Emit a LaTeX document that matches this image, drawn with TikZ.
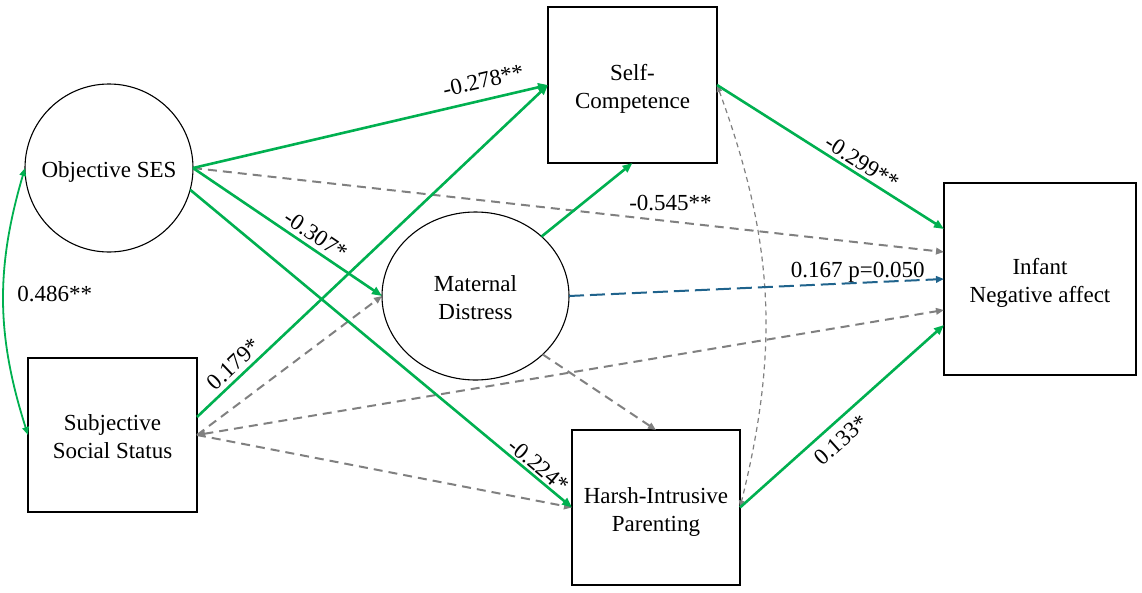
\documentclass[tikz,border=0pt]{standalone}
\usepackage{fontspec}
\setmainfont{Liberation Serif}
\usetikzlibrary{arrows.meta,calc,shapes.geometric}

\definecolor{pathgreen}{RGB}{0,176,80}
\definecolor{pathgray}{RGB}{128,128,128}
\definecolor{pathblue}{RGB}{31,99,140}

% centred variable name, set a little below the geometric centre
\newcommand\varname[1]{\raisebox{-4pt}[\height][\depth]{\begin{tabular}{@{}c@{}}#1\end{tabular}}}

\tikzset{
  every node/.style={font=\fontsize{23}{28}\selectfont},
  varbox/.style={draw, line width=1.3pt, rectangle, inner sep=0pt, outer sep=0pt},
  latentvar/.style={draw, line width=1.1pt, circle, inner sep=0pt, outer sep=0pt, minimum size=168pt},
  mediator/.style={draw, line width=1.1pt, ellipse, inner sep=0pt, outer sep=0pt,
                   minimum width=187pt, minimum height=168pt},
  sig/.style={draw=pathgreen, line width=2.6pt, -{Triangle[length=10pt,width=8pt]}},
  nonsig/.style={draw=pathgray, line width=2pt, dash pattern=on 9pt off 6pt,
                 -{Triangle[length=8pt,width=6.5pt]}},
  trend/.style={draw=pathblue, line width=2pt, dash pattern=on 15pt off 6pt,
                -{Triangle[length=8pt,width=6.5pt]}},
  covar/.style={draw=pathgray, line width=1.2pt, dash pattern=on 5pt off 4pt,
                {Triangle[length=7pt,width=5.5pt]}-{Triangle[length=7pt,width=5.5pt]}},
  corr/.style={draw=pathgreen, line width=1.8pt,
               {Triangle[length=8pt,width=6.5pt]}-{Triangle[length=8pt,width=6.5pt]}},
  coef/.style={inner sep=1pt}
}

\begin{document}
\begin{tikzpicture}[x=1pt,y=-1pt]
\useasboundingbox (0,0) rectangle (1142,592);

% variables
\node[latentvar] (oses) at (109,168) {\varname{Objective SES}};
\node[varbox, minimum width=169pt, minimum height=154pt] (sss) at (112.5,435) {\varname{Subjective\\Social Status}};
\node[varbox, minimum width=169pt, minimum height=156pt] (sc) at (632.5,85) {\varname{Self-\\Competence}};
\node[mediator] (md) at (475.5,296) {\varname{Maternal\\Distress}};
\node[varbox, minimum width=168pt, minimum height=155pt] (hp) at (656,507.5) {\varname{Harsh-Intrusive\\Parenting}};
\node[varbox, minimum width=192pt, minimum height=192pt] (ina) at (1040,279) {\varname{Infant\\Negative affect}};

% entry points on the outcome box
\coordinate (inA) at ($(ina.west)+(0,-50)$);
\coordinate (inB) at ($(ina.west)+(0,-27)$);
\coordinate (inC) at ($(ina.west)+(0,0)$);
\coordinate (inD) at ($(ina.west)+(0,31)$);
\coordinate (inE) at ($(ina.west)+(0,46)$);
\coordinate (sssA) at ($(sss.east)+(0,-18)$);

% non-significant paths
\draw[nonsig] (oses.east) -- (inB);
\draw[nonsig] (sss.east) -- (md.west);
\draw[nonsig] (sss.east) -- (hp.west);
\draw[nonsig, {Triangle[length=8pt,width=6.5pt]}-{Triangle[length=8pt,width=6.5pt]}] (sss.east) -- (inD);
\draw[nonsig] (md.-41) -- (hp.north);
\draw[covar] (sc.east) to[bend left=17] (hp.east);

% trend-level path
\draw[trend] (md.east) -- node[coef, pos=0.77, anchor=base, yshift=5.5pt] {0.167 p=0.050} (inC);

% significant paths
\draw[sig] (oses.east) -- node[coef, pos=0.83, sloped, above=9pt] {-0.278**} (sc.west);
\draw[sig] (oses.east) -- node[coef, pos=0.61, sloped, above=3pt] {-0.307*} (md.west);
\draw[sig] (oses.-15) -- node[coef, pos=0.895, sloped, above=1pt] {-0.224*} (hp.west);
\draw[sig] (sssA) -- node[coef, pos=0.13, sloped, above=3pt] {0.179*} (sc.west);
\draw[sig] (md.42) -- node[coef, pos=0.5, anchor=west, xshift=40pt, yshift=-3pt] {-0.545**} (sc.south);
\draw[sig] (sc.east) -- node[coef, pos=0.61, sloped, above=2pt] {-0.299**} (inA);
\draw[sig] (hp.east) -- node[coef, pos=0.44, sloped, below=7pt] {0.133*} (inE);

% correlation between the two status measures
\draw[corr] (oses.west) to[bend right=17] node[coef, pos=0.47, anchor=west, xshift=12pt] {0.486**} (sss.west);
\end{tikzpicture}
\end{document}
